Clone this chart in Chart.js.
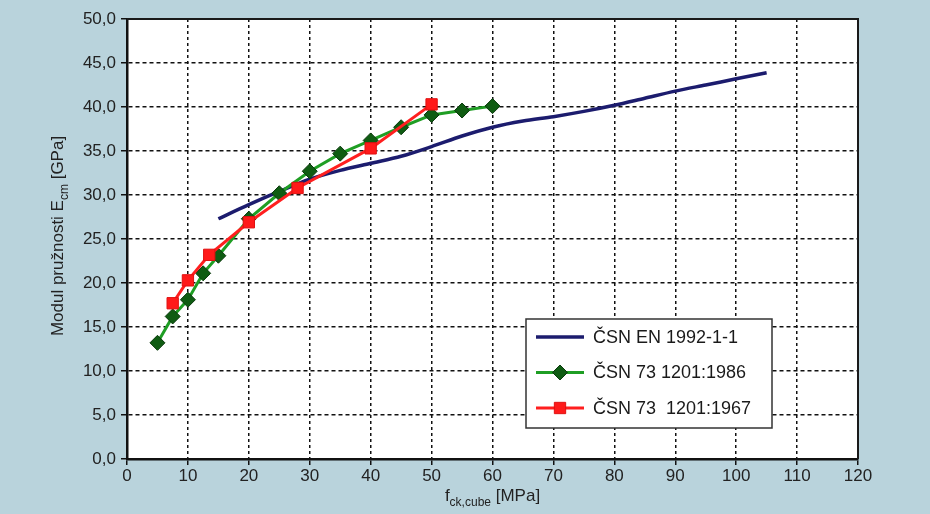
<!DOCTYPE html>
<html>
<head>
<meta charset="utf-8">
<title>Modul pružnosti</title>
<script src="https://cdn.jsdelivr.net/npm/chart.js@4.4.0/dist/chart.umd.min.js"></script>
<style>
  html, body { margin: 0; padding: 0; background: #b9d3dc; }
  #wrap { width: 930px; height: 514px; }
</style>
</head>
<body>
<div id="wrap"><canvas id="chart" width="930" height="514"></canvas></div>
<script>
// ČSN EN 1992-1-1
const enX = [15, 20, 25, 30, 35, 40, 45, 50, 55, 60, 65, 70, 75, 80, 85, 90, 95, 100, 105];
const enY = [27.3, 28.9, 30.4, 31.8, 32.8, 33.6, 34.4, 35.5, 36.7, 37.7, 38.4, 38.9, 39.5, 40.2, 41.0, 41.8, 42.5, 43.2, 43.9];
// ČSN 73 1201:1986
const n86X = [5, 7.5, 10, 12.5, 15, 20, 25, 30, 35, 40, 45, 50, 55, 60];
const n86Y = [13.2, 16.2, 18.1, 21.1, 23.1, 27.3, 30.2, 32.7, 34.7, 36.2, 37.7, 39.1, 39.6, 40.1];
// ČSN 73 1201:1967
const n67X = [7.5, 10, 13.5, 20, 28, 40, 50];
const n67Y = [17.7, 20.3, 23.2, 26.9, 30.8, 35.3, 40.3];

const labels = ['ČSN EN 1992-1-1', 'ČSN 73 1201:1986', 'ČSN 73  1201:1967'];
const xTicks = [0, 10, 20, 30, 40, 50, 60, 70, 80, 90, 100, 110, 120];
const yTicks = [0, 5, 10, 15, 20, 25, 30, 35, 40, 45, 50];

const FONT = '"Liberation Sans", Arial, sans-serif';

function pts(xs, ys) {
    return xs.map((x, i) => ({ x: x, y: ys[i] }));
}

// bílá plocha grafu + rámeček nahoře a vpravo
const plotBg = {
    id: 'plotBg',
    beforeDraw(chart) {
        const { ctx, chartArea: a } = chart;
        ctx.save();
        ctx.fillStyle = '#ffffff';
        ctx.fillRect(a.left, a.top, a.right - a.left, a.bottom - a.top);
        ctx.restore();
    },
    afterDraw(chart) {
        const { ctx, chartArea: a } = chart;
        ctx.save();
        ctx.strokeStyle = '#1a1a1a';
        ctx.lineWidth = 2;
        ctx.beginPath();
        ctx.moveTo(a.left, a.top);
        ctx.lineTo(a.right, a.top);
        ctx.lineTo(a.right, a.bottom);
        ctx.stroke();
        ctx.restore();
    }
};

// popisky os s dolními indexy
const axisTitles = {
    id: 'axisTitles',
    afterDraw(chart) {
        const { ctx, chartArea: a } = chart;
        ctx.save();
        ctx.fillStyle = '#222';
        ctx.textBaseline = 'alphabetic';

        // osa x: f_ck,cube [MPa]
        const big = '17px ' + FONT, small = '12px ' + FONT;
        ctx.font = big;
        const wF = ctx.measureText('f').width;
        const wM = ctx.measureText(' [MPa]').width;
        ctx.font = small;
        const wS = ctx.measureText('ck,cube').width;
        let x = (a.left + a.right) / 2 - (wF + wS + wM) / 2;
        const yb = 501;
        ctx.font = big; ctx.fillText('f', x, yb); x += wF;
        ctx.font = small; ctx.fillText('ck,cube', x, yb + 5); x += wS;
        ctx.font = big; ctx.fillText(' [MPa]', x, yb);

        // osa y: Modul pružnosti E_cm [GPa]
        ctx.translate(63, (a.top + a.bottom) / 2 - 3);
        ctx.rotate(-Math.PI / 2);
        ctx.font = big;
        const w1 = ctx.measureText('Modul pružnosti E').width;
        const w3 = ctx.measureText(' [GPa]').width;
        ctx.font = small;
        const w2 = ctx.measureText('cm').width;
        let t = -(w1 + w2 + w3) / 2;
        ctx.font = big; ctx.fillText('Modul pružnosti E', t, 0); t += w1;
        ctx.font = small; ctx.fillText('cm', t, 5); t += w2;
        ctx.font = big; ctx.fillText(' [GPa]', t, 0);
        ctx.restore();
    }
};

function drawMarker(ctx, style, r, x, y) {
    if (style === 'rectRot') {
        ctx.moveTo(x, y - r);
        ctx.lineTo(x + r, y);
        ctx.lineTo(x, y + r);
        ctx.lineTo(x - r, y);
        ctx.closePath();
    } else {
        const s = r * Math.SQRT1_2;
        ctx.rect(x - s, y - s, 2 * s, 2 * s);
    }
}

// legenda v rámečku uvnitř grafu
const boxLegend = {
    id: 'boxLegend',
    afterDraw(chart) {
        const { ctx } = chart;
        const bx = 526, by = 319, bw = 246, bh = 109;
        ctx.save();
        ctx.fillStyle = '#ffffff';
        ctx.fillRect(bx, by, bw, bh);
        ctx.strokeStyle = '#333';
        ctx.lineWidth = 1.5;
        ctx.strokeRect(bx, by, bw, bh);
        ctx.font = '18px ' + FONT;
        ctx.textBaseline = 'middle';
        chart.data.datasets.forEach((ds, i) => {
            const cy = by + 18 + i * 35.5;
            ctx.strokeStyle = ds.borderColor;
            ctx.lineWidth = ds.borderWidth;
            ctx.beginPath();
            ctx.moveTo(bx + 10, cy);
            ctx.lineTo(bx + 58, cy);
            ctx.stroke();
            if (ds.pointRadius > 0) {
                ctx.fillStyle = ds.pointBackgroundColor;
                ctx.strokeStyle = ds.pointBorderColor;
                ctx.lineWidth = ds.pointBorderWidth;
                ctx.beginPath();
                drawMarker(ctx, ds.pointStyle, ds.pointRadius, bx + 34, cy);
                ctx.fill();
                ctx.stroke();
            }
            ctx.fillStyle = '#1a1a1a';
            ctx.fillText(ds.label, bx + 67, cy + 1);
        });
        ctx.restore();
    }
};

const ctx = document.getElementById('chart').getContext('2d');
const chart = new Chart(ctx, {
    type: 'line',
    data: {
        datasets: [
            {
                label: labels[0],
                data: pts(enX, enY),
                borderColor: '#1c1c6e',
                borderWidth: 3.5,
                pointRadius: 0,
                tension: 0.3,
                order: 3
            },
            {
                label: labels[1],
                data: pts(n86X, n86Y),
                borderColor: '#1f9e24',
                borderWidth: 3,
                pointStyle: 'rectRot',
                pointRadius: 7.5,
                pointBackgroundColor: '#0f5c12',
                pointBorderColor: '#0a3a0c',
                pointBorderWidth: 1,
                tension: 0,
                order: 2
            },
            {
                label: labels[2],
                data: pts(n67X, n67Y),
                borderColor: '#ff1f1f',
                borderWidth: 3,
                pointStyle: 'rect',
                pointRadius: 8,
                pointBackgroundColor: '#ff1a1a',
                pointBorderColor: '#e01010',
                pointBorderWidth: 1,
                tension: 0,
                order: 1
            }
        ]
    },
    options: {
        responsive: false,
        animation: false,
        layout: { padding: { top: 19, right: 72, left: 0, bottom: 0 } },
        plugins: {
            legend: { display: false },
            tooltip: { enabled: false }
        },
        scales: {
            x: {
                type: 'linear',
                min: 0,
                max: 120,
                afterBuildTicks: s => { s.ticks = xTicks.map(v => ({ value: v })); },
                afterFit: s => { s.height = 55; },
                ticks: {
                    color: '#222',
                    font: { family: FONT, size: 17 },
                    padding: 1,
                    maxRotation: 0
                },
                grid: {
                    color: '#111',
                    lineWidth: 1.5,
                    tickLength: 6,
                    tickBorderDash: [],
                    tickColor: '#111'
                },
                border: { display: true, color: '#111', width: 2.5, dash: [3, 3] }
            },
            y: {
                min: 0,
                max: 50,
                afterBuildTicks: s => { s.ticks = yTicks.map(v => ({ value: v })); },
                afterFit: s => { s.width = 127; },
                ticks: {
                    color: '#222',
                    font: { family: FONT, size: 17 },
                    padding: 5,
                    callback: v => v.toFixed(1).replace('.', ',')
                },
                grid: {
                    color: '#111',
                    lineWidth: 1.5,
                    tickLength: 6,
                    tickBorderDash: [],
                    tickColor: '#111'
                },
                border: { display: true, color: '#111', width: 2.5, dash: [4, 3] }
            }
        }
    },
    plugins: [plotBg, axisTitles, boxLegend]
});
</script>
</body>
</html>
